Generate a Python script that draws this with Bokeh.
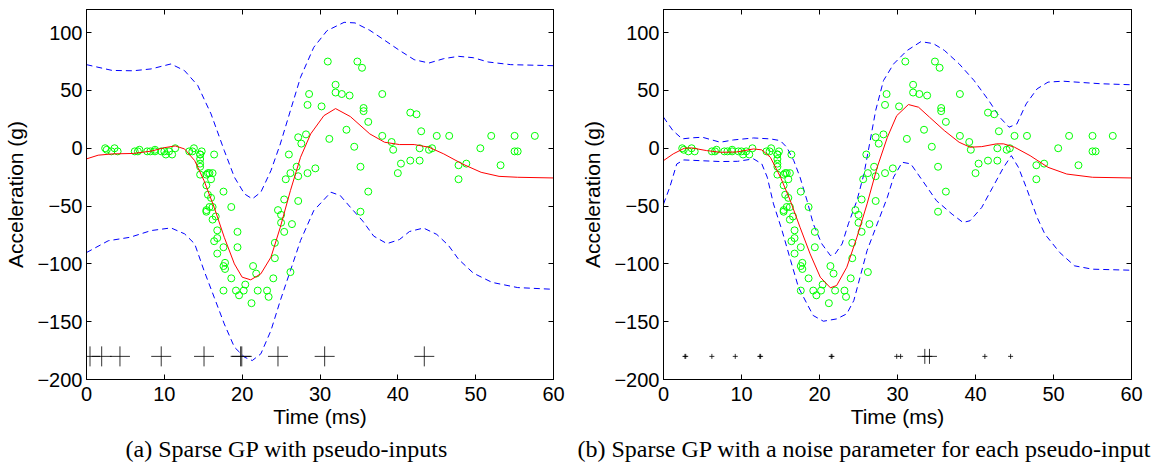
from bokeh.plotting import figure
from bokeh.layouts import row
from bokeh.models import LinearAxis, FixedTicker, Title, Range1d
from bokeh.embed import file_html
from bokeh.resources import INLINE

# ---- motorcycle data (time in ms, acceleration in g) ----
times = [2.4, 2.6, 3.2, 3.6, 4.0, 6.2, 6.6, 6.8, 7.8, 8.2, 8.8, 8.8, 9.6, 10.0, 10.2, 10.6, 11.0, 11.4,
         13.2, 13.6, 13.8, 14.6, 14.6, 14.6, 14.6, 14.6, 14.6, 14.8, 15.4, 15.4, 15.4, 15.4, 15.6, 15.6,
         15.8, 15.8, 16.0, 16.0, 16.2, 16.2, 16.2, 16.4, 16.4, 16.6, 16.8, 16.8, 16.8, 17.6, 17.6, 17.6,
         17.6, 17.8, 17.8, 18.6, 18.6, 19.2, 19.4, 19.4, 19.6, 20.2, 20.4, 21.2, 21.4, 21.8, 22.0, 23.2,
         23.4, 24.0, 24.2, 24.2, 24.6, 25.0, 25.0, 25.4, 25.4, 25.6, 26.0, 26.2, 26.2, 26.4, 27.0, 27.2,
         27.2, 27.2, 27.6, 28.2, 28.4, 28.4, 28.6, 29.4, 30.2, 31.0, 31.2, 32.0, 32.0, 32.8, 33.4, 33.8,
         34.4, 34.8, 35.2, 35.2, 35.4, 35.6, 35.6, 36.2, 36.2, 38.0, 38.0, 39.2, 39.4, 40.0, 40.4, 41.6,
         41.6, 42.4, 42.8, 42.8, 43.0, 44.0, 44.4, 45.0, 46.6, 47.8, 47.8, 48.8, 50.6, 52.0, 53.2, 55.0,
         55.0, 55.4, 57.6]
accel = [0.0, -1.3, -2.7, 0.0, -2.7, -2.7, -2.7, -1.3, -2.7, -2.7, -1.3, -2.7, -2.7, -2.7, -5.4, -2.7,
         -5.4, 0.0, -2.7, -2.7, 0.0, -13.3, -5.4, -5.4, -9.3, -16.0, -22.8, -2.7, -22.8, -32.1, -53.5,
         -54.9, -40.2, -21.5, -21.5, -50.8, -42.9, -26.8, -21.5, -50.8, -61.7, -5.4, -80.4, -59.0, -71.0,
         -91.1, -77.7, -37.5, -85.6, -123.1, -101.9, -99.1, -104.4, -112.5, -50.8, -123.1, -85.6, -72.3,
         -127.2, -123.1, -117.9, -134.0, -101.9, -108.4, -123.1, -123.1, -128.5, -112.5, -95.1, -81.8,
         -53.5, -64.4, -57.6, -72.3, -44.3, -26.8, -5.4, -107.1, -21.5, -65.6, -16.0, -45.6, -24.2, 9.5,
         4.0, 12.0, -21.5, 37.5, 46.9, -17.4, 36.2, 75.0, 8.1, 54.9, 48.2, 46.9, 16.0, 45.6, 1.3, 75.0,
         -16.0, -54.9, 69.6, 34.8, 32.1, -37.5, 22.8, 46.9, 10.7, 5.4, -1.3, -21.5, -13.3, 30.8, -10.7,
         29.4, 0.0, -10.7, 14.7, -1.3, 0.0, 10.7, 10.7, -26.8, -14.7, -13.3, 0.0, 10.7, -14.7, -2.7, 10.7,
         -2.7, 10.7]

# ---- panel (a): sparse GP with pseudo-inputs ----
mean_a_t = [0, 1.5, 3.3, 6, 8.3, 10, 11.4, 12.6, 13.9, 15.1, 16.4, 17.7, 19, 20, 21.1, 22.4, 23.7, 24.9,
            26.2, 27.5, 28.8, 30.5, 32, 33.9, 36.4, 38.3, 40.2, 42.1, 44, 45.9, 48.3, 50.7, 53, 55.4, 60]
mean_a_v = [-9.2, -6, -4.9, -4.5, -2.5, 0.5, 2, -0.6, -10.7, -28, -51, -77, -100, -111.5, -113.8, -108.6,
            -94.2, -68.3, -36.6, -7.8, 12.4, 28.2, 34.3, 27.4, 12.4, 5.2, 3.2, 3.2, 0.9, -4.9, -13.6,
            -20.8, -24.3, -25.1, -25.7]
upper_a_t = [0, 3.3, 6, 8.3, 10.85, 12.6, 14.3, 16, 17.7, 19, 20.3, 21.3, 22.4, 23.7, 24.9, 26.2, 27.5,
             29.2, 30.9, 33.1, 34.5, 36.4, 38.3, 40.2, 42.1, 44, 45.9, 47.8, 49.7, 51.6, 54.5, 60]
upper_a_v = [72.3, 67.3, 67, 68.6, 72.9, 67.1, 54.2, 29.7, -2, -25, -39.5, -43.8, -38, -19.3, 3.7, 32.6,
             61.4, 87.3, 101.7, 108.9, 108.4, 102, 93.4, 84.7, 76.6, 73.7, 77.5, 79.5, 78.3, 74.6, 72.3,
             71.4]
lower_a_t = [0, 2.8, 5.6, 8.3, 10.85, 12.6, 13.9, 15.1, 16.4, 17.7, 19, 20.3, 21.3, 22.4, 23.7, 24.9,
             26.2, 27.5, 29.2, 31.4, 32.6, 33.9, 35.5, 36.9, 38.6, 40.2, 41.5, 43.3, 45, 46.5, 47.8, 49.7,
             52.1, 55.4, 60]
lower_a_v = [-90.2, -80, -77, -71.2, -68.9, -74, -82.7, -105.8, -128.8, -151.9, -172, -180.7, -183.6,
             -177.8, -157.6, -131.7, -105.8, -79.8, -53.9, -38, -40.9, -51, -63, -76, -82.5, -79, -72,
             -69, -74.5, -84, -96, -108, -116, -120.5, -122]
pseudo_a_x = [0.45, 1.95, 4.3, 9.6, 15.1, 19.8, 19.95, 24.6, 30.6, 43.4]
pseudo_a_y = [-180] * 10
pseudo_a_size = [20] * 10

# ---- panel (b): sparse GP with a noise parameter per pseudo-input ----
mean_b_t = [0, 1.24, 2.67, 3.6, 5.5, 7.3, 9.4, 11.55, 12.6, 13.7, 15, 16.25, 17.5, 18.8, 20.1, 21.4, 22.2,
            23.5, 24.8, 26.1, 27.4, 28.7, 29.9, 31.4, 32.7, 34.1, 36, 37.9, 39.3, 40.8, 42.7, 43.6, 45,
            47, 49.3, 51.7, 55, 60]
mean_b_v = [-10.7, -4.9, 0, 0.3, -2, -3.5, -3.2, -0.6, -1.4, -7.8, -25, -45.2, -68.3, -91.4, -111.5,
            -120.7, -118.7, -102.9, -76.9, -48.1, -16.4, 9.5, 28.2, 37.8, 35.5, 26.9, 15.3, 5.2, 0.9, 1.4,
            3.8, 3.8, 0.9, -6.4, -16.5, -22.3, -25.1, -25.7]
upper_b_t = [0, 1.2, 2.4, 3.6, 5, 7.27, 8.98, 11.55, 13.7, 14.97, 15.8, 16.7, 17.5, 18.4, 19.2, 20.3,
             21.4, 22.0, 22.9, 23.7, 24.8, 25.7, 26.4, 27.2, 28.2, 29.5, 31.2, 33.0, 34.6, 36, 37.9, 39.8,
             41.7, 43.1, 44.3, 45.3, 46.5, 47.9, 49.3, 51.2, 56, 60]
upper_b_v = [26.9, 15.3, 8.1, 9, 9.5, 5.2, 7.2, 8.9, 8.1, 6.6, 0.9, -10.7, -25, -45.2, -65.4, -82.7,
             -92.8, -91.4, -82.7, -65.4, -45.2, -22.2, 3, 32.6, 58.5, 72.9, 84.4, 92.2, 90.5, 84.7, 73,
             58.7, 41.3, 26.9, 18.2, 21, 38.4, 51.4, 57.2, 58, 55.8, 54.9]
lower_b_t = [0, 0.8, 1.7, 2.6, 4.6, 7.3, 9.5, 11.55, 12.6, 13.3, 14.1, 15.2, 16.3, 17.3, 18.4, 19.2,
             20.5, 22.2, 23.5, 24.4, 25.2, 26.1, 27.4, 28.7, 29.5, 30.6, 31.7, 33.1, 35, 37, 38.4, 39.3,
             40.8, 42.2, 43.6, 44.6, 45.5, 46.5, 47.9, 48.9, 50.8, 52.7, 55, 60]
lower_b_v = [-48.3, -33.8, -13.6, -10.1, -10.7, -11.5, -11.3, -9.2, -13.5, -25, -48.1, -71.2, -97.1,
             -120.2, -134.6, -144.7, -149.6, -147.6, -143.2, -131.7, -111.5, -88.5, -65.4, -42.4, -25,
             -12.1, -13.5, -27, -45.4, -57, -64.2, -62.7, -51.2, -33.8, -16.5, -6.4, -16.5, -33.8, -59.8,
             -74.3, -90.2, -101.7, -104.6, -105.5]
pseudo_b_x = [2.75, 2.85, 6.2, 9.2, 12.35, 12.45, 21.5, 21.6, 29.9, 30.4, 33.5, 34.1, 41.2, 44.5]
pseudo_b_y = [-180] * 14
pseudo_b_size = [5, 5, 5, 5, 5, 5, 5, 5, 5, 5, 15, 15, 5, 5]

x_ticks = [0, 10, 20, 30, 40, 50, 60]
y_ticks = [-200, -150, -100, -50, 0, 50, 100]
y_tick_labels = {-200: "\u2212200", -150: "\u2212150", -100: "\u2212100", -50: "\u221250"}

caption_a = "(a) Sparse GP with pseudo-inputs"
caption_b = "(b) Sparse GP with a noise parameter for each pseudo-input"

SANS = "Liberation Sans"
SERIF = "Liberation Serif"


def style_axis(ax, ticker, show_labels):
    ax.ticker = FixedTicker(ticks=ticker)
    ax.major_tick_in = 5
    ax.major_tick_out = 0
    ax.minor_tick_line_color = None
    ax.major_tick_line_color = "black"
    ax.axis_line_color = "black"
    ax.major_label_text_font = SANS
    ax.major_label_text_color = "black"
    if show_labels:
        ax.major_label_text_font_size = "20px"
    else:
        # tick marks only: labels are not drawn at all
        ax.major_label_text_color = None
        ax.major_label_text_alpha = 0
        ax.major_label_text_font_size = "1px"
        ax.major_label_standoff = 0


def make_panel(width, bl, br, caption, cap_offset,
               mt, mv, ut, uv, lt, lv, px, py, ps):
    p = figure(width=width, height=469, x_range=Range1d(0, 60), y_range=Range1d(-200, 120),
               output_backend="svg", toolbar_location=None,
               min_border_left=bl, min_border_right=br, min_border_top=9, min_border_bottom=90)
    p.grid.visible = False
    p.outline_line_color = "black"
    p.outline_line_width = 1
    p.background_fill_color = "white"
    p.border_fill_color = "white"

    style_axis(p.xaxis[0], x_ticks, True)
    style_axis(p.yaxis[0], y_ticks, True)
    p.xaxis.major_label_standoff = 7
    p.yaxis.major_label_standoff = 4
    p.yaxis.major_label_overrides = y_tick_labels
    p.xaxis.axis_label = "Time (ms)"
    p.yaxis.axis_label = "Acceleration (g)"
    for ax in (p.xaxis[0], p.yaxis[0]):
        ax.axis_label_text_font = SANS
        ax.axis_label_text_font_size = "21px"
        ax.axis_label_text_font_style = "normal"
        ax.axis_label_text_color = "black"
    p.xaxis.axis_label_standoff = 1
    p.yaxis.axis_label_standoff = 7

    top = LinearAxis()
    style_axis(top, x_ticks, False)
    right = LinearAxis()
    style_axis(right, y_ticks, False)
    p.add_layout(top, "above")
    p.add_layout(right, "right")

    p.line(ut, uv, line_color="#0000ff", line_width=1, line_dash="6 4")
    p.line(lt, lv, line_color="#0000ff", line_width=1, line_dash="6 4")
    p.scatter(times, accel, marker="circle", size=7, fill_color=None,
              line_color="#00ff00", line_width=1)
    p.line(mt, mv, line_color="#ff0000", line_width=1)
    p.scatter(px, py, marker="cross", size=ps, line_color="black", line_alpha=0.8, line_width=1)

    t = Title(text=caption, align="left", offset=cap_offset, text_font=SERIF,
              text_font_size="24px", text_font_style="normal", text_color="black", standoff=7)
    p.add_layout(t, "below")
    return p


pa = make_panel(577, 86, 24, caption_a, 39,
                mean_a_t, mean_a_v, upper_a_t, upper_a_v, lower_a_t, lower_a_v,
                pseudo_a_x, pseudo_a_y, pseudo_a_size)
pb = make_panel(585, 86, 31, caption_b, -86,
                mean_b_t, mean_b_v, upper_b_t, upper_b_v, lower_b_t, lower_b_v,
                pseudo_b_x, pseudo_b_y, pseudo_b_size)

layout = row(pa, pb)
open("out.html", "w").write(file_html(layout, INLINE))
